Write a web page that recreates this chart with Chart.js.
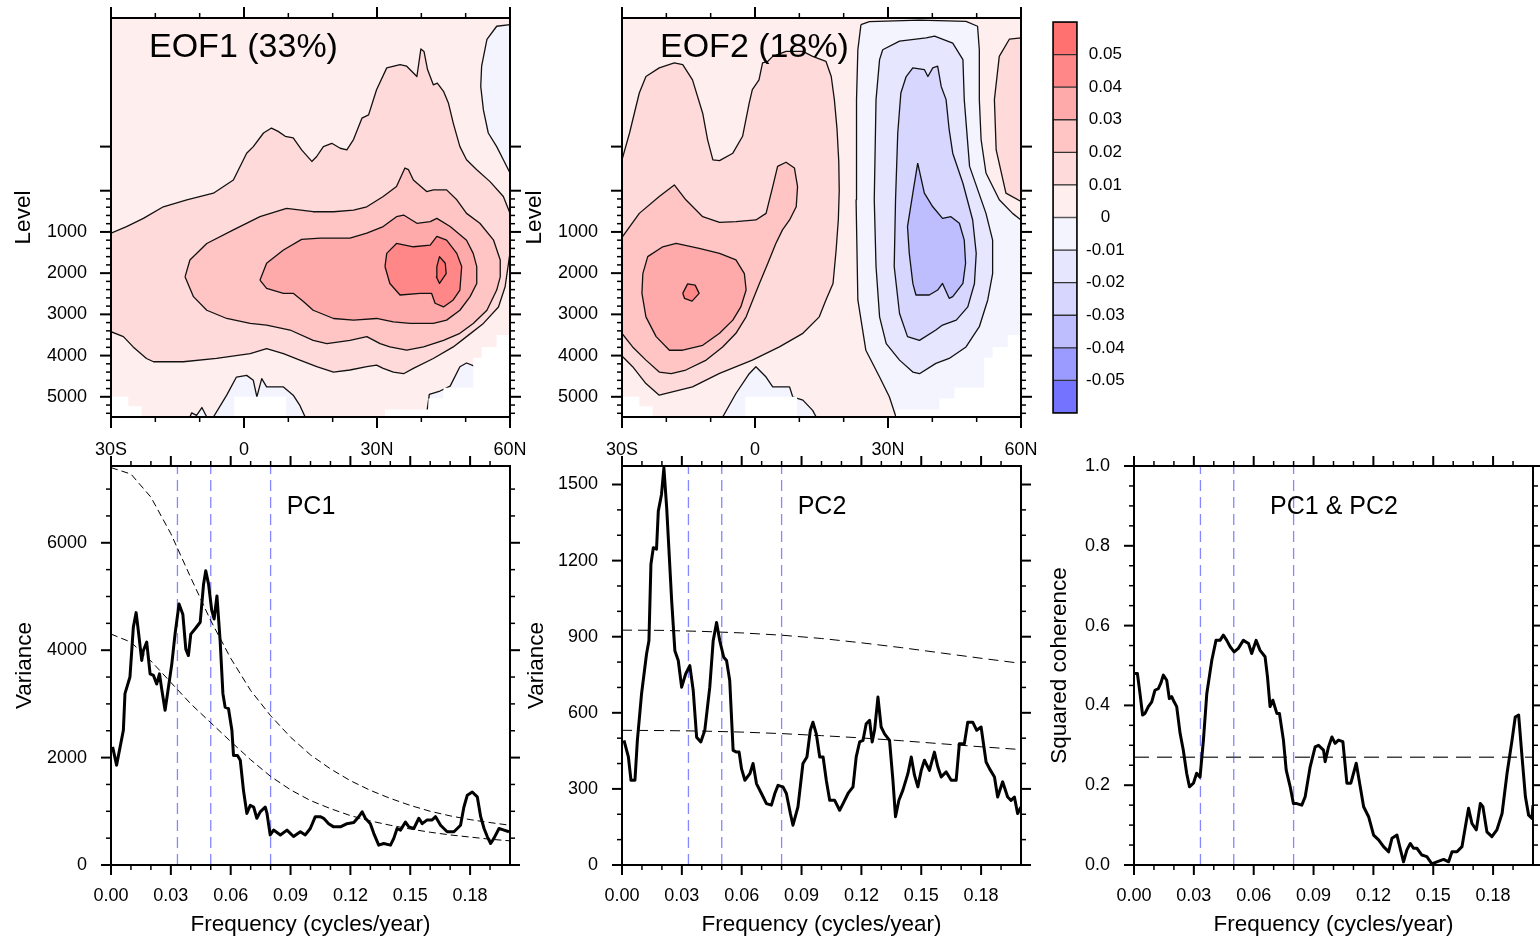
<!DOCTYPE html>
<html>
<head>
<meta charset="utf-8">
<title>EOF modes and spectra</title>
<script src="https://cdn.jsdelivr.net/npm/chart.js@4/dist/chart.umd.min.js"></script>
<style>
  html, body { margin: 0; background: #fff; }
  #wrap { position: relative; width: 1540px; height: 940px; overflow: hidden; }
  canvas { position: absolute; }
</style>
</head>
<body>
<div id="wrap">
  <canvas id="eof1" width="530" height="460" style="left:0;top:0"></canvas>
  <canvas id="eof2" width="530" height="460" style="left:511px;top:0"></canvas>
  <canvas id="cbar" width="130" height="430" style="left:1040px;top:0"></canvas>
  <canvas id="pc1" width="530" height="500" style="left:0;top:440px"></canvas>
  <canvas id="pc2" width="530" height="500" style="left:511px;top:440px"></canvas>
  <canvas id="coh" width="517" height="500" style="left:1023px;top:440px"></canvas>
</div>
<script>
// ---------- sections: latitude / level ----------
const latTicks = [-30, 0, 30, 60];
const levelTicks = [1000, 2000, 3000, 4000, 5000];
const levelRange = [-4190, 5490];

// contour outlines, [lat, level] pairs
const eof1Pos1 = [[-30,1030],[-26.5,870],[-22.7,670],[-18.2,390],[-12.9,220],[-6.9,60],[-2.4,-260],[0.6,-910],[2.1,-1070],[4.4,-1400],[6.2,-1520],[7.7,-1440],[9.3,-1320],[11.1,-1280],[13.0,-990],[15.3,-710],[16.4,-830],[17.9,-1070],[19.8,-1150],[21.7,-1030],[23.2,-990],[24.7,-1240],[26.6,-1760],[28.1,-1840],[29.9,-2450],[32.2,-2980],[35.2,-3060],[36.7,-3020],[39.0,-2770],[39.9,-3440],[40.6,-3380],[41.4,-2940],[42.7,-2570],[43.6,-2610],[45.0,-2410],[46.1,-2130],[47.2,-1640],[48.7,-1070],[50.2,-750],[52.5,-510],[55.5,-220],[58.5,140],[60,550],[60,1500],[58.9,2330],[57.4,2820],[54.0,3220],[50.2,3540],[47.2,3790],[42.7,4070],[38.2,4310],[36.0,4440],[33.7,4400],[31.4,4310],[29.9,4230],[27.7,4270],[23.9,4350],[20.2,4400],[16.4,4270],[12.6,4110],[8.9,3950],[5.1,3830],[1.4,3950],[-6.2,4070],[-13.7,4150],[-20.4,4150],[-22.0,4070],[-25.0,3790],[-27.2,3540],[-30,3420]];
const eof1Pos2 = [[-13.3,2090],[-12.2,1680],[-8.4,1280],[-2.4,950],[3.6,630],[9.6,430],[15.6,510],[20.2,510],[24.7,470],[27.7,390],[31.4,140],[34.4,-100],[36.3,-550],[37.1,-510],[38.2,-260],[41.2,20],[42.7,-20],[45.7,-20],[48.0,220],[50.2,550],[53.2,790],[56.3,1200],[57.8,1680],[57.8,2090],[57.0,2410],[54.8,2900],[51.7,3220],[48.7,3460],[45.0,3630],[40.5,3790],[36.7,3870],[32.9,3790],[30.7,3710],[27.7,3540],[23.9,3630],[18.7,3710],[15.6,3630],[10.4,3380],[5.1,3260],[1.4,3220],[-3.9,3100],[-8.4,2900],[-11.4,2570]];
const eof1Pos3 = [[3.6,2170],[5.1,1760],[8.9,1440],[13.0,1180],[17.2,1150],[23.9,1150],[27.7,1030],[31.4,870],[34.4,630],[36.0,590],[39.0,790],[42.0,750],[43.5,670],[46.5,870],[50.2,1200],[51.7,1520],[52.5,1840],[52.5,2250],[51.0,2570],[48.7,2900],[45.7,3140],[42.7,3220],[37.5,3220],[33.7,3180],[29.9,3100],[24.7,3140],[20.2,3100],[15.6,2900],[13.4,2690],[11.1,2490],[8.9,2490],[5.1,2370]];
const eof1Pos4 = [[31.8,1840],[32.2,1520],[34.4,1280],[38.2,1360],[42.0,1320],[43.5,1110],[45.7,1200],[48.0,1520],[49.1,1840],[48.7,2410],[47.2,2650],[45.0,2820],[43.1,2730],[42.3,2490],[39.7,2490],[35.2,2530],[32.9,2250]];
const eof1Pos5 = [[43.5,1840],[44.1,1600],[45.4,1760],[45.6,2010],[44.1,2250],[43.4,2090]];
const eof1NegTop = [[60,-4030],[57.0,-3990],[54.8,-3670],[53.6,-3020],[53.4,-2530],[54.0,-1960],[55.1,-1400],[57.0,-1070],[58.5,-750],[60,-430]];
const eof1NegA = [[-6.9,5490],[-3.9,4960],[-1.7,4520],[0.6,4480],[2.1,4600],[2.9,5000],[4.0,4560],[5.1,4760],[8.9,4760],[11.1,4960],[12.6,5210],[13.8,5490]];
const eof1NegB = [[41.1,5490],[41.8,4940],[44.2,4860],[46.5,4740],[48.7,4270],[50.2,4180],[52.1,4260],[53.2,5490]];
const eof1NegC = [[-12.2,5490],[-11.8,5390],[-10.7,5450],[-9.5,5260],[-8.4,5490]];

const eof2Pos1 = [[-30,-750],[-28.3,-1400],[-26.1,-2370],[-24.6,-2770],[-21.6,-2980],[-18.2,-3100],[-16.3,-3060],[-14.1,-2690],[-11.8,-1880],[-10.7,-1240],[-9.5,-750],[-8.0,-730],[-5.0,-910],[-2.8,-1320],[-1.3,-2130],[-0.6,-2450],[0.9,-2690],[1.7,-3100],[2.9,-3140],[4.0,-3260],[7.0,-3380],[10.8,-3380],[13.0,-3260],[16.0,-3140],[17.2,-2770],[17.9,-2210],[18.5,-1500],[18.9,-700],[19.0,0],[18.8,700],[18.3,1440],[17.6,2250],[16.0,2650],[14.5,3060],[10.8,3460],[5.5,3790],[-0.6,4110],[-8.0,4430],[-14.1,4760],[-21.6,4960],[-24.6,4680],[-27.6,4270],[-30,4010]];
const eof2Pos2 = [[-30,1130],[-26.1,550],[-21.6,140],[-18.2,-140],[-15.6,220],[-11.8,630],[-8.0,770],[-4.3,750],[0.2,710],[2.5,550],[4.0,-100],[5.1,-590],[7.0,-690],[8.9,-550],[9.6,-100],[9.3,390],[7.8,710],[6.2,950],[4.7,1280],[2.9,1760],[1.0,2250],[-0.5,2650],[-2.0,3060],[-4.3,3460],[-7.3,3790],[-11.0,4110],[-15.6,4350],[-18.9,4440],[-21.6,4400],[-24.6,4110],[-27.6,3790],[-30,3460]];
const eof2Pos3 = [[-25.3,2010],[-24.2,1600],[-20.8,1360],[-17.8,1280],[-12.6,1400],[-8.0,1520],[-4.3,1680],[-2.4,2010],[-2.0,2410],[-3.2,2820],[-5.0,3140],[-8.0,3460],[-11.8,3750],[-16.3,3870],[-19.3,3870],[-22.3,3540],[-24.6,3060],[-25.5,2490]];
const eof2Pos4 = [[-16.3,2490],[-15.2,2260],[-13.5,2290],[-12.6,2490],[-14.2,2680],[-15.9,2610]];
const eof2PosTop = [[60,-3710],[57.4,-3680],[55.1,-3260],[54.0,-2210],[54.4,-990],[56.6,60],[60,260]];
const eof2Neg0 = [[23.9,-4030],[25.8,-4100],[37.1,-4140],[47.6,-4110],[50.2,-3990],[50.6,-3420],[50.6,-2210],[51.0,-1240],[52.1,-430],[55.1,220],[58.1,550],[60,710],[60,5490],[31.8,5490],[30.3,5000],[28.1,4520],[25.0,3870],[23.2,2650],[22.8,220],[22.9,-2210],[23.2,-3420]];
const eof2Neg1 = [[28.8,-3420],[32.6,-3630],[38.6,-3710],[40.5,-3750],[44.6,-3580],[46.9,-3180],[47.2,-2210],[48.4,-590],[52.1,550],[53.6,1200],[53.6,2010],[52.5,2650],[50.6,3300],[47.6,3790],[43.8,4070],[40.8,4190],[37.1,4440],[35.6,4400],[32.6,4110],[29.6,3710],[28.1,3060],[27.3,1840],[26.9,220],[27.3,-2210],[28.1,-3180]];
const eof2Neg2 = [[34.1,-2770],[35.6,-2980],[38.2,-2940],[39.0,-2770],[40.1,-2980],[41.2,-3020],[42.0,-2530],[43.1,-2210],[43.8,-1480],[44.6,-910],[46.9,-180],[49.1,710],[49.9,1520],[49.5,2250],[48.0,2820],[45.4,3140],[42.3,3260],[40.8,3380],[37.1,3630],[34.4,3540],[32.6,2980],[31.4,1840],[31.7,220],[32.2,-1400],[32.9,-2370]];
const eof2Neg3 = [[36.7,-670],[38.2,60],[40.1,390],[42.3,670],[44.2,630],[46.1,790],[47.2,1200],[47.5,1760],[46.9,2250],[44.6,2570],[43.8,2610],[42.3,2250],[41.2,2410],[39.3,2530],[36.3,2530],[35.6,2250],[34.8,1520],[34.4,870],[35.6,60]];
const eof2NegA = [[-7.3,5490],[-4.3,4920],[-1.3,4440],[0.2,4270],[2.5,4520],[4.0,4760],[7.8,4760],[8.5,5000],[10.8,5080],[13.0,5330],[13.8,5490]];

// sea floor (no data)
const floorMask = [
  [[-30,5490],[-30,5000],[-26.1,5000],[-26.1,5230],[-23.1,5230],[-23.1,5490]],
  [[-2.2,5490],[-2.2,5000],[9.5,5000],[9.5,5490]],
  [[31.8,5490],[31.8,5310],[41.6,5310],[41.6,5040],[45.0,5040],[45.0,4780],[51.7,4780],[51.7,4050],[53.6,4050],[53.6,3790],[57.0,3790],[57.0,3500],[60,3500],[60,5490]]
];

// colour bar
const cbLabels = ['-0.05', '-0.04', '-0.03', '-0.02', '-0.01', '0', '0.01', '0.02', '0.03', '0.04', '0.05'];

// ---------- spectra ----------
const freqTicks = [0, 0.03, 0.06, 0.09, 0.12, 0.15, 0.18];
const markFreqs = [0.0333, 0.05, 0.08];

const pc1Freq = [0.0008,0.0028,0.0062,0.0070,0.0095,0.0112,0.0126,0.0137,0.0154,0.0162,
  0.0179,0.0196,0.0213,0.0229,0.0243,0.0254,0.0271,0.0288,0.0305,0.0321,
  0.0341,0.0360,0.0375,0.0388,0.0400,0.0422,0.0447,0.0464,0.0475,0.0489,
  0.0505,0.0517,0.0531,0.0547,0.0561,0.0572,0.0589,0.0606,0.0614,0.0634,
  0.0648,0.0664,0.0681,0.0698,0.0715,0.0731,0.0748,0.0773,0.0782,0.0798,
  0.0815,0.0849,0.0882,0.0915,0.0949,0.0974,0.0999,0.1024,0.1049,0.1066,
  0.1091,0.1116,0.1150,0.1183,0.1217,0.1242,0.1259,0.1275,0.1300,0.1317,
  0.1342,0.1367,0.1401,0.1418,0.1434,0.1451,0.1476,0.1493,0.1518,0.1543,
  0.1560,0.1585,0.1610,0.1627,0.1652,0.1685,0.1719,0.1752,0.1769,0.1786,
  0.1811,0.1836,0.1853,0.1870,0.1886,0.1903,0.1920,0.1945,0.1970,0.1995];
const pc1Var = [2200,1860,2510,3190,3500,4430,4700,4360,3810,3990,
  4150,3560,3530,3370,3560,3280,2880,3310,3750,4300,
  4860,4670,4020,3900,4300,4400,4520,5230,5480,5230,
  4740,4580,5010,4180,3190,2940,2910,2510,2040,2040,
  1950,1390,960,1110,1080,870,990,1080,960,560,
  650,560,650,530,620,560,680,900,900,870,
  770,710,710,770,790,900,990,870,770,590,
  370,400,370,500,680,650,800,710,680,870,
  770,840,840,900,740,620,620,740,1080,1300,
  1360,1270,900,680,530,400,500,680,650,620];
const pc1RedFreq = [0,0.01,0.02,0.03,0.04,0.05,0.06,0.07,0.08,0.09,0.10,0.11,0.12,0.13,0.14,0.15,0.16,0.17,0.18,0.19,0.20];
const pc1Upper = [7400,7280,6850,6170,5350,4550,3850,3250,2780,2380,2050,1790,1570,1390,1240,1110,1000,915,845,790,740];
const pc1Lower = [4300,4150,3800,3400,3000,2650,2300,1960,1650,1400,1200,1050,920,820,740,670,610,560,520,480,450];

const pc2Freq = [0.0010,0.0032,0.0045,0.0065,0.0077,0.0098,0.0123,0.0135,0.0145,0.0157,
  0.0173,0.0182,0.0198,0.0210,0.0224,0.0249,0.0265,0.0282,0.0299,0.0319,
  0.0340,0.0357,0.0374,0.0395,0.0415,0.0440,0.0457,0.0474,0.0490,0.0510,
  0.0524,0.0540,0.0557,0.0574,0.0587,0.0599,0.0616,0.0641,0.0657,0.0674,
  0.0699,0.0724,0.0749,0.0766,0.0782,0.0807,0.0824,0.0844,0.0857,0.0882,
  0.0907,0.0927,0.0944,0.0957,0.0974,0.0991,0.1008,0.1024,0.1041,0.1066,
  0.1091,0.1108,0.1133,0.1158,0.1174,0.1191,0.1208,0.1224,0.1241,0.1254,
  0.1266,0.1283,0.1299,0.1316,0.1341,0.1358,0.1371,0.1388,0.1408,0.1433,
  0.1450,0.1466,0.1483,0.1500,0.1516,0.1541,0.1566,0.1583,0.1600,0.1625,
  0.1650,0.1675,0.1691,0.1716,0.1733,0.1758,0.1778,0.1800,0.1825,0.1842,
  0.1867,0.1883,0.1908,0.1933,0.1950,0.1967,0.1983,0.2000];
const pc2Var = [491,426,334,334,491,675,832,884,1186,1251,
  1245,1395,1461,1566,1408,1041,845,806,701,753,
  786,688,504,485,531,701,884,956,884,819,
  806,727,452,445,445,380,334,360,400,321,
  282,242,236,282,314,308,282,203,157,229,
  400,426,531,563,517,426,426,334,255,255,
  216,242,282,308,426,485,491,557,570,485,
  531,662,544,517,491,334,190,255,295,360,
  426,354,308,373,413,373,445,387,347,367,
  334,334,478,478,563,563,531,544,406,380,
  347,268,328,268,255,268,203,229];
const pc2RedFreq = [0,0.02,0.04,0.06,0.08,0.10,0.12,0.14,0.16,0.18,0.20];
const pc2Upper = [926,925,921,915,906,893,876,857,836,815,795];
const pc2Lower = [531,530,528,524,518,510,501,490,478,466,455];

const cohFreq = [0.0005,0.0017,0.0030,0.0043,0.0055,0.0072,0.0089,0.0105,0.0122,0.0134,
  0.0147,0.0164,0.0177,0.0189,0.0201,0.0214,0.0231,0.0247,0.0264,0.0278,
  0.0298,0.0314,0.0331,0.0348,0.0365,0.0390,0.0411,0.0431,0.0448,0.0465,
  0.0482,0.0502,0.0523,0.0548,0.0574,0.0590,0.0612,0.0632,0.0657,0.0669,
  0.0682,0.0696,0.0716,0.0729,0.0749,0.0763,0.0783,0.0799,0.0816,0.0841,
  0.0858,0.0883,0.0908,0.0925,0.0950,0.0958,0.0975,0.0992,0.1008,0.1025,
  0.1047,0.1067,0.1087,0.1114,0.1134,0.1151,0.1176,0.1201,0.1226,0.1251,
  0.1276,0.1293,0.1318,0.1334,0.1351,0.1368,0.1385,0.1401,0.1418,0.1443,
  0.1468,0.1493,0.1518,0.1552,0.1577,0.1594,0.1619,0.1644,0.1661,0.1677,
  0.1694,0.1716,0.1736,0.1749,0.1769,0.1794,0.1819,0.1845,0.1870,0.1895,
  0.1911,0.1928,0.1945,0.1962,0.1978,0.1995,0.2000];
const cohVal = [0.480,0.480,0.430,0.376,0.380,0.397,0.409,0.438,0.442,0.455,
  0.476,0.463,0.417,0.422,0.409,0.397,0.330,0.288,0.230,0.196,
  0.205,0.230,0.220,0.313,0.430,0.513,0.563,0.563,0.576,0.563,
  0.547,0.534,0.543,0.563,0.555,0.530,0.563,0.538,0.522,0.472,
  0.397,0.413,0.380,0.380,0.313,0.238,0.196,0.154,0.154,0.150,
  0.171,0.246,0.296,0.300,0.288,0.259,0.296,0.321,0.305,0.313,
  0.309,0.205,0.205,0.255,0.196,0.146,0.121,0.075,0.063,0.046,
  0.033,0.067,0.075,0.042,0.008,0.038,0.054,0.042,0.042,0.025,
  0.021,0.003,0.008,0.014,0.008,0.033,0.033,0.046,0.096,0.142,
  0.104,0.088,0.154,0.146,0.083,0.071,0.088,0.129,0.230,0.313,
  0.371,0.376,0.271,0.171,0.125,0.117,0.150];
const cohSig = 0.27;

// ---------- styling ----------
const FONT = '"Liberation Sans", Arial, Helvetica, sans-serif';
Chart.defaults.font.family = FONT;
Chart.defaults.font.size = 18;
Chart.defaults.color = '#000';

const band = {
  p05: 'rgb(255,112,112)', p04: 'rgb(255,135,135)', p03: 'rgb(255,170,170)',
  p02: 'rgb(255,196,196)', p01: 'rgb(255,218,218)', p00: 'rgb(255,238,238)',
  n00: 'rgb(244,244,255)', n01: 'rgb(230,230,255)', n02: 'rgb(214,214,255)',
  n03: 'rgb(190,190,255)', n04: 'rgb(155,155,255)', n05: 'rgb(115,115,255)'
};
const MARK = 'rgb(135,135,255)';

// frame, outward tick marks on all four sides, and the label inside the panel
const frame = {
  id: 'frame',
  afterDraw(chart, args, o) {
    const {ctx, chartArea: a, scales} = chart;
    ctx.save();
    ctx.strokeStyle = '#000';
    const seg = (x1, y1, x2, y2, w) => {
      ctx.lineWidth = w;
      ctx.beginPath(); ctx.moveTo(x1, y1); ctx.lineTo(x2, y2); ctx.stroke();
    };
    const sets = ax => [[ax.major, o.majorLen, 2], [ax.minor, o.minorLen, 1.5]];
    if (o.x) {
      for (const [vals, len, w] of sets(o.x)) for (const v of vals) {
        const p = scales.x.getPixelForValue(v);
        seg(p, a.bottom, p, a.bottom + len, w);
        seg(p, a.top, p, a.top - len, w);
      }
    }
    if (o.y) {
      for (const [vals, len, w] of sets(o.y)) for (const v of vals) {
        const p = scales.y.getPixelForValue(v);
        seg(a.left, p, a.left - len, p, w);
        seg(a.right, p, a.right + len, p, w);
      }
    }
    ctx.lineWidth = o.border || 2;
    ctx.strokeRect(a.left, a.top, a.right - a.left, a.bottom - a.top);
    if (o.title) {
      const t = o.title;
      ctx.fillStyle = '#000';
      ctx.font = t.size + 'px ' + FONT;
      ctx.textAlign = t.align;
      ctx.textBaseline = 'middle';
      ctx.fillText(t.text, a.left + t.x, a.top + t.y);
    }
    ctx.restore();
  }
};

const baseOptions = pad => ({
  responsive: false, animation: false, events: [],
  layout: {padding: pad},
  plugins: {legend: {display: false}, tooltip: {enabled: false}}
});

const noGrid = {display: false, drawTicks: false};
// fixed axis box, and no extra room reserved for the end labels
const fixSize = (dim, size) => s => {
  s[dim] = size;
  s.paddingTop = s.paddingBottom = s.paddingLeft = s.paddingRight = 0;
};
const latLabel = v => v < 0 ? (-v) + 'S' : v > 0 ? v + 'N' : '0';
const levelMinor = [];
for (let d = 200; d <= 5400; d += 200) if (d % 1000) levelMinor.push(d);

// ---------- sections ----------
function section(id, layers, title, levelPad) {
  const n = layers.length;
  const datasets = layers.map(([pts, color, outline], i) => ({
    data: pts.concat([pts[0]]).map(([x, y]) => ({x, y})),
    showLine: true, fill: 'shape', backgroundColor: color,
    borderColor: outline ? '#111' : 'rgba(0,0,0,0)', borderWidth: 1.3,
    borderJoinStyle: 'round',
    pointRadius: 0, pointHoverRadius: 0, tension: 0, order: n - i
  }));
  const opts = baseOptions({top: 18, right: 20, left: 0, bottom: 0});
  opts.plugins.frame = {
    x: {major: latTicks, minor: [-20, -10, 10, 20, 40, 50]},
    y: {major: [-1070, 0].concat(levelTicks), minor: levelMinor},
    majorLen: 11, minorLen: 5,
    title: {text: title, x: 38, y: 30, size: 34, align: 'left'}
  };
  opts.scales = {
    x: {
      type: 'linear', min: -30, max: 60, grid: noGrid, border: {display: false},
      ticks: {padding: 22, autoSkip: false, maxRotation: 0, callback: v => latLabel(v)},
      afterBuildTicks: s => { s.ticks = latTicks.map(v => ({value: v})); },
      afterFit: fixSize('height', 43)
    },
    y: {
      type: 'linear', reverse: true, min: levelRange[0], max: levelRange[1],
      grid: noGrid, border: {display: false},
      ticks: {padding: 24, autoSkip: false, callback: v => String(v)},
      afterBuildTicks: s => { s.ticks = levelTicks.map(v => ({value: v})); },
      afterFit: fixSize('width', 111),
      title: {display: true, text: 'Level', font: {size: 22.5}, padding: {top: levelPad, bottom: 0}}
    }
  };
  return new Chart(document.getElementById(id), {type: 'scatter', data: {datasets}, options: opts, plugins: [frame]});
}

const whole = [[-30, levelRange[0]], [60, levelRange[0]], [60, levelRange[1]], [-30, levelRange[1]]];
const masks = floorMask.map(p => [p, '#fff', false]);

section('eof1', [
  [whole, band.p00, false],
  [eof1NegTop, band.n00, true],
  [eof1Pos1, band.p01, true],
  [eof1Pos2, band.p02, true],
  [eof1Pos3, band.p03, true],
  [eof1Pos4, band.p04, true],
  [eof1Pos5, band.p05, true],
  [eof1NegA, band.n00, true],
  [eof1NegB, band.n00, true],
  [eof1NegC, band.n00, true]
].concat(masks), 'EOF1 (33%)', 10);

section('eof2', [
  [whole, band.p00, false],
  [eof2Neg0, band.n00, true],
  [eof2Neg1, band.n01, true],
  [eof2Neg2, band.n02, true],
  [eof2Neg3, band.n03, true],
  [eof2PosTop, band.p01, true],
  [eof2Pos1, band.p01, true],
  [eof2Pos2, band.p02, true],
  [eof2Pos3, band.p03, true],
  [eof2Pos4, band.p04, true],
  [eof2NegA, band.n00, true]
].concat(masks), 'EOF2 (18%)', 10.5);

// ---------- colour bar ----------
(function () {
  const boxes = ['n05', 'n04', 'n03', 'n02', 'n01', 'n00', 'p00', 'p01', 'p02', 'p03', 'p04', 'p05'];
  const opts = baseOptions({top: 22, left: 13, bottom: 17, right: 0});
  opts.plugins.frame = {border: 1.5};
  opts.scales = {
    x: {stacked: true, display: false},
    y: {
      stacked: true, position: 'right', min: 0, max: 12, grid: noGrid, border: {display: false},
      ticks: {padding: 9, crossAlign: 'center', autoSkip: false, font: {size: 17}, callback: v => cbLabels[v - 1]},
      afterBuildTicks: s => { s.ticks = cbLabels.map((t, i) => ({value: i + 1})); },
      afterFit: fixSize('width', 93)
    }
  };
  new Chart(document.getElementById('cbar'), {
    type: 'bar',
    data: {
      labels: [''],
      datasets: boxes.map(k => ({
        data: [1], backgroundColor: band[k], borderColor: '#333', borderWidth: 1,
        borderSkipped: false, barPercentage: 1, categoryPercentage: 1
      }))
    },
    options: opts,
    plugins: [frame]
  });
})();

// ---------- spectra ----------
const xy = (xs, ys) => xs.map((x, i) => ({x, y: ys[i]}));

function spectrum(id, cfg) {
  const datasets = [];
  markFreqs.forEach(f => datasets.push({
    data: [{x: f, y: 0}, {x: f, y: cfg.yMax}], borderColor: MARK, borderWidth: 1.3,
    borderDash: [11, 6]
  }));
  cfg.dashed.forEach(d => datasets.push({
    data: d, borderColor: d.color || '#000', borderWidth: d.width || 1, borderDash: d.dash
  }));
  datasets.push({data: cfg.series, borderColor: '#000', borderWidth: 3, borderJoinStyle: 'round'});
  datasets.forEach((d, i) => Object.assign(d, {
    showLine: true, fill: false, pointRadius: 0, pointHoverRadius: 0, tension: 0, order: datasets.length - i
  }));

  const opts = baseOptions({top: 26, right: cfg.right, left: 0, bottom: 0});
  opts.plugins.frame = {
    x: {major: freqTicks, minor: [0.01, 0.02, 0.04, 0.05, 0.07, 0.08, 0.10, 0.11, 0.13, 0.14, 0.16, 0.17, 0.19]},
    y: {major: cfg.yMajor, minor: cfg.yMinor},
    majorLen: 10, minorLen: 5,
    title: {text: cfg.title, x: 200, y: 41, size: 25, align: 'center'}
  };
  opts.scales = {
    x: {
      type: 'linear', min: 0, max: 0.2, grid: noGrid, border: {display: false},
      ticks: {padding: 20, autoSkip: false, maxRotation: 0, callback: v => v.toFixed(2)},
      afterBuildTicks: s => { s.ticks = freqTicks.map(v => ({value: v})); },
      afterFit: fixSize('height', 75),
      title: {display: true, text: 'Frequency (cycles/year)', font: {size: 22.5}, padding: {top: 0, bottom: 1.5}}
    },
    y: {
      type: 'linear', min: 0, max: cfg.yMax, grid: noGrid, border: {display: false},
      ticks: {padding: 24, autoSkip: false, callback: cfg.fmt},
      afterBuildTicks: s => { s.ticks = cfg.yMajor.map(v => ({value: v})); },
      afterFit: fixSize('width', 111),
      title: {display: true, text: cfg.yTitle, font: {size: 22.5}, padding: {top: cfg.yTitlePad, bottom: 0}}
    }
  };
  return new Chart(document.getElementById(id), {type: 'scatter', data: {datasets}, options: opts, plugins: [frame]});
}

const dashed = (pts, dash, color, width) => Object.assign(pts, {dash, color, width});

spectrum('pc1', {
  title: 'PC1', yTitle: 'Variance', yTitlePad: 11.5, right: 20, yMax: 7430,
  yMajor: [0, 2000, 4000, 6000],
  yMinor: [500, 1000, 1500, 2500, 3000, 3500, 4500, 5000, 5500, 6500, 7000],
  fmt: v => String(v),
  series: xy(pc1Freq, pc1Var),
  dashed: [dashed(xy(pc1RedFreq, pc1Upper), [7, 4]), dashed(xy(pc1RedFreq, pc1Lower), [7, 4])]
});

spectrum('pc2', {
  title: 'PC2', yTitle: 'Variance', yTitlePad: 12, right: 20, yMax: 1573,
  yMajor: [0, 300, 600, 900, 1200, 1500],
  yMinor: [100, 200, 400, 500, 700, 800, 1000, 1100, 1300, 1400],
  fmt: v => String(v),
  series: xy(pc2Freq, pc2Var),
  dashed: [dashed(xy(pc2RedFreq, pc2Upper), [10, 6]), dashed(xy(pc2RedFreq, pc2Lower), [10, 6])]
});

spectrum('coh', {
  title: 'PC1 & PC2', yTitle: 'Squared coherence', yTitlePad: 23, right: 7, yMax: 1,
  yMajor: [0, 0.2, 0.4, 0.6, 0.8, 1.0],
  yMinor: [0.05, 0.1, 0.15, 0.25, 0.3, 0.35, 0.45, 0.5, 0.55, 0.65, 0.7, 0.75, 0.85, 0.9, 0.95],
  fmt: v => v.toFixed(1),
  series: xy(cohFreq, cohVal),
  dashed: [dashed([{x: 0, y: cohSig}, {x: 0.2, y: cohSig}], [15, 8], '#444', 1.5)]
});
</script>
</body>
</html>
